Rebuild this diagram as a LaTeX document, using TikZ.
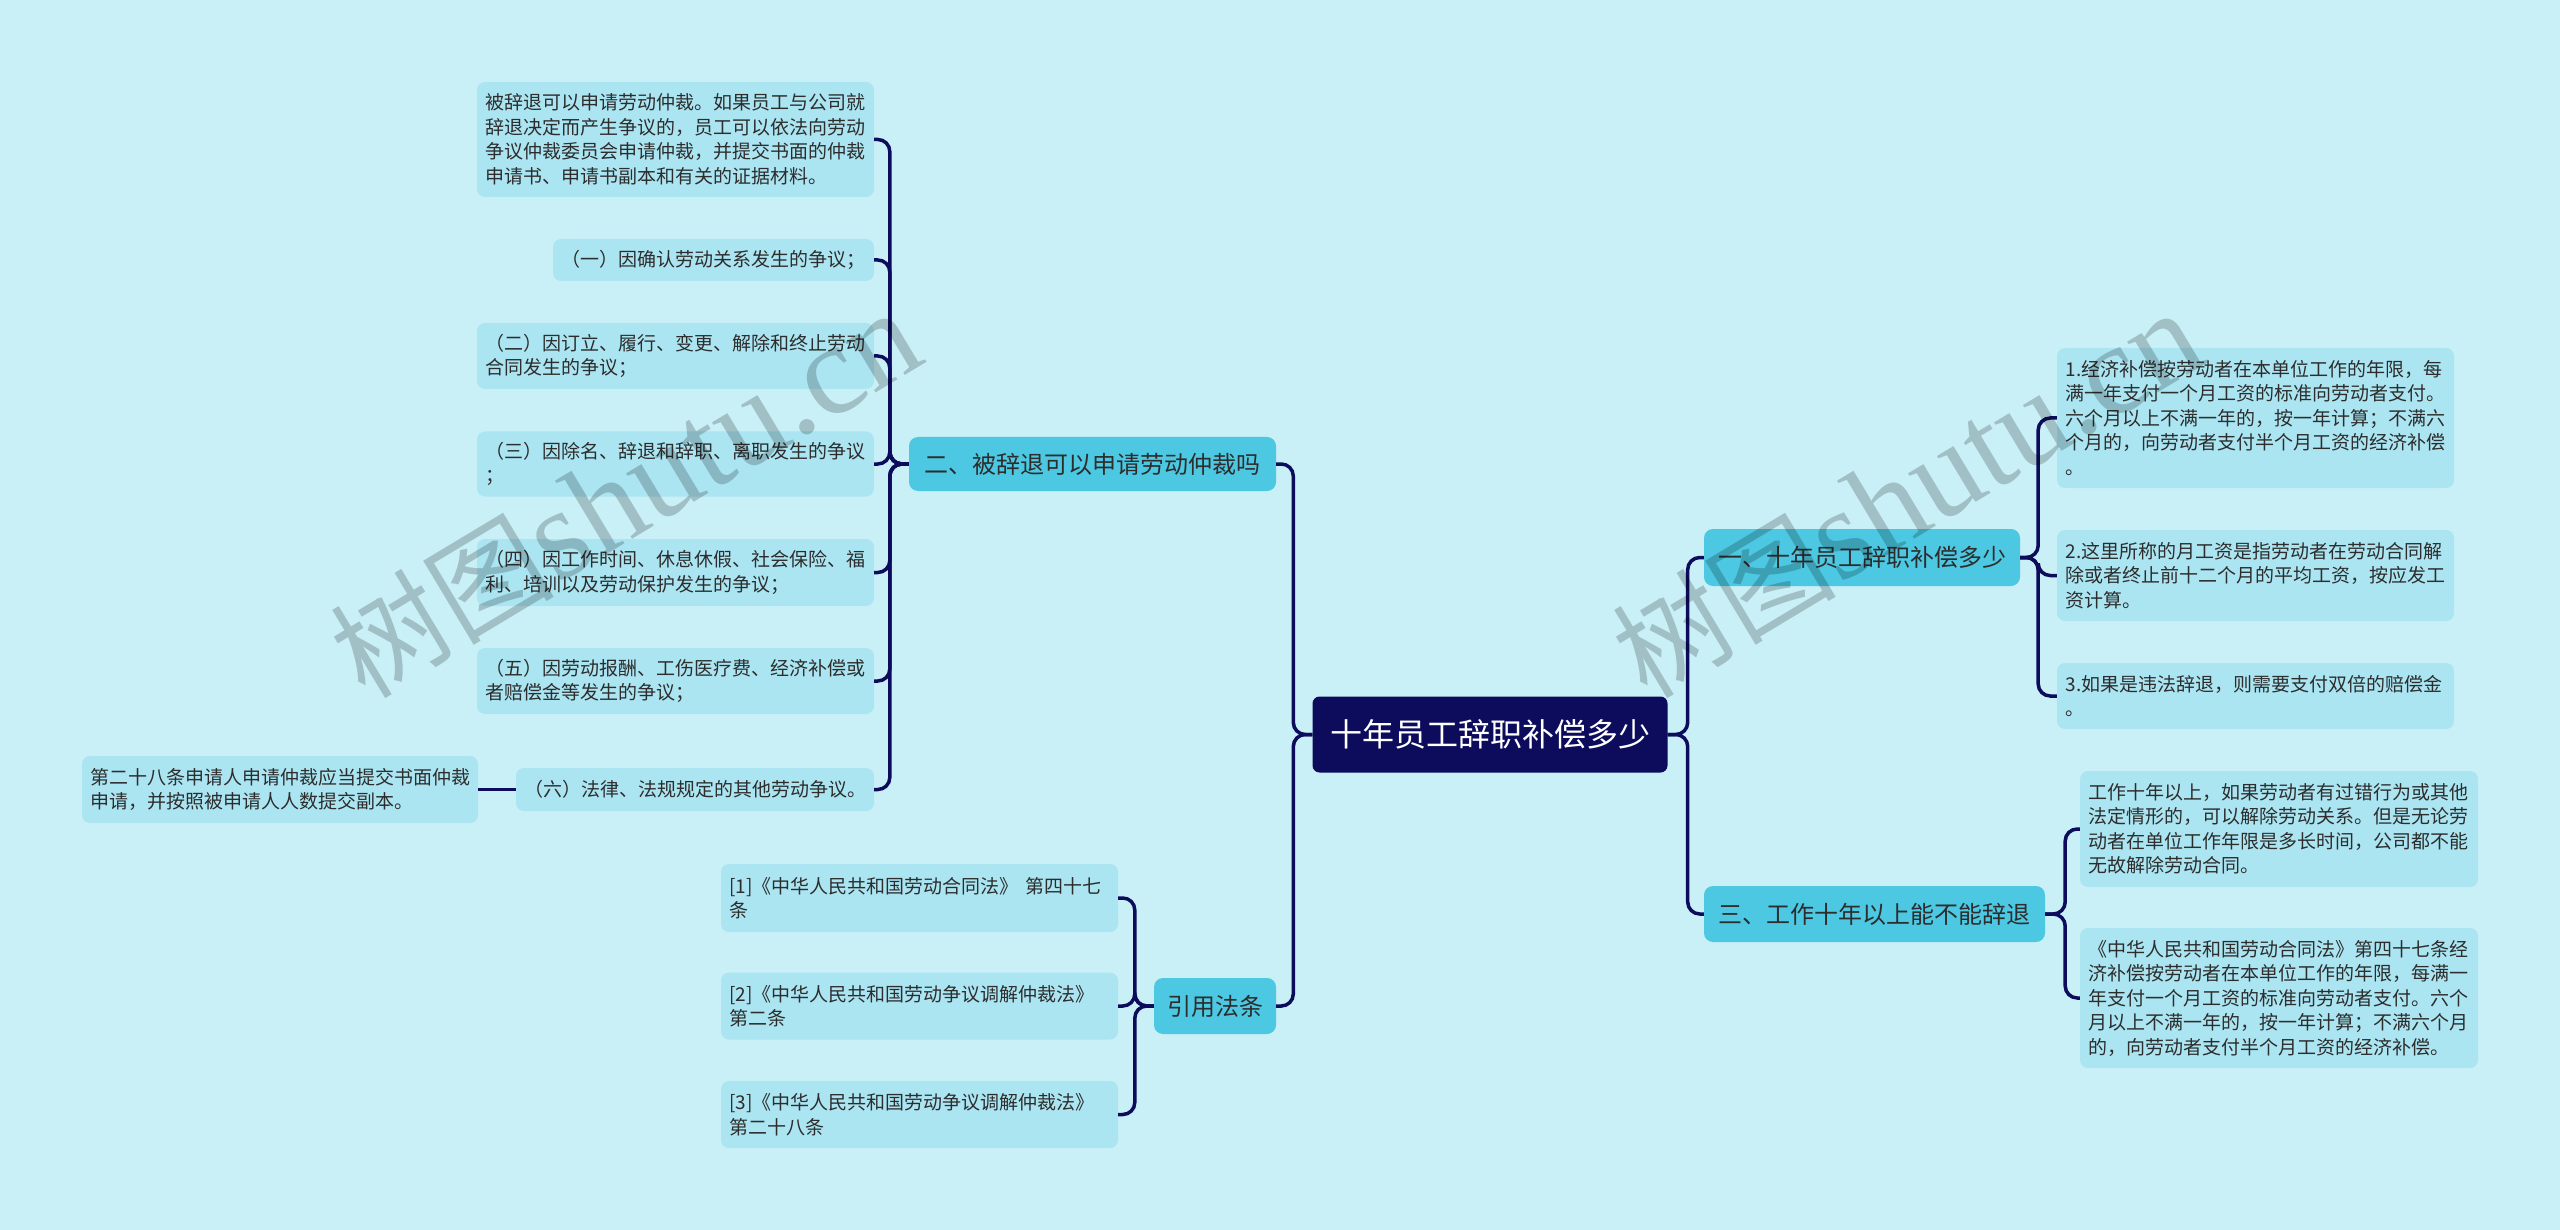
\documentclass[tikz,border=0pt]{standalone}
\usepackage{fontspec}
\setmainfont{Noto Sans CJK SC}
\newfontfamily\wmlatin{Liberation Serif}
\definecolor{bgc}{RGB}{201,240,247}
\definecolor{leafc}{RGB}{171,229,242}
\definecolor{branchc}{RGB}{76,200,226}
\definecolor{navy}{RGB}{12,11,92}
\definecolor{txt}{RGB}{45,45,45}
\tikzset{
  conn/.style={draw=navy, line width=3.5pt, rounded corners=12pt},
  leaf/.style={fill=leafc, rounded corners=8pt, inner xsep=8.5pt, inner ysep=0pt, align=left, text=txt, font=\fontsize{19pt}{24.5pt}\selectfont},
  branch/.style={fill=branchc, rounded corners=9pt, inner sep=0pt, text=txt, font=\fontsize{24pt}{28pt}\selectfont},
  rootbox/.style={fill=navy, rounded corners=7pt, inner sep=0pt, text=white, font=\fontsize{32pt}{38pt}\selectfont},
  wm/.style={text=black, text opacity=0.2, rotate=31, anchor=base west, font=\fontsize{112pt}{112pt}\selectfont}
}
\newcommand\wmtext{树图{\wmlatin\fontsize{129pt}{129pt}\selectfont shutu.cn}}
\begin{document}
\begin{tikzpicture}[x=1pt,y=-1pt]
\fill[bgc] (0,0) rectangle (2560,1230);
\useasboundingbox (0,0) rectangle (2560,1230);

% root and branches
\node[rootbox, minimum width=355pt, minimum height=76pt] (root) at (1490,734.5) {十年员工辞职补偿多少};
\node[branch, minimum width=367pt, minimum height=54pt] (b2) at (1092.5,464) {二、被辞退可以申请劳动仲裁吗};
\node[branch, minimum width=122pt, minimum height=56pt] (ref) at (1215,1006) {引用法条};
\node[branch, minimum width=316pt, minimum height=57pt] (b1) at (1862,557.5) {一、十年员工辞职补偿多少};
\node[branch, minimum width=341pt, minimum height=56pt] (b3) at (1874.5,914) {三、工作十年以上能不能辞退};

% leaves of b2
\node[leaf, text width=380pt, minimum height=115pt] (a1) at (675.5,139.5) {被辞退可以申请劳动仲裁。如果员工与公司就\\辞退决定而产生争议的，员工可以依法向劳动\\争议仲裁委员会申请仲裁，并提交书面的仲裁\\申请书、申请书副本和有关的证据材料。};
\node[leaf, text width=304pt, minimum height=42pt] (a2) at (713.5,260) {（一）因确认劳动关系发生的争议；};
\node[leaf, text width=380pt, minimum height=66pt] (a3) at (675.5,356) {（二）因订立、履行、变更、解除和终止劳动\\合同发生的争议；};
\node[leaf, text width=380pt, minimum height=65pt] (a4) at (675.5,464) {（三）因除名、辞退和辞职、离职发生的争议\\；};
\node[leaf, text width=380pt, minimum height=67pt] (a5) at (675.5,572.5) {（四）因工作时间、休息休假、社会保险、福\\利、培训以及劳动保护发生的争议；};
\node[leaf, text width=380pt, minimum height=66pt] (a6) at (675.5,681) {（五）因劳动报酬、工伤医疗费、经济补偿或\\者赔偿金等发生的争议；};
\node[leaf, text width=341pt, minimum height=43pt] (a7) at (695,789.5) {（六）法律、法规规定的其他劳动争议。};
\node[leaf, text width=379pt, minimum height=67pt] (a8) at (280,789.5) {第二十八条申请人申请仲裁应当提交书面仲裁\\申请，并按照被申请人人数提交副本。};

% leaves of ref
\node[leaf, text width=380pt, minimum height=68pt] (r1) at (919.5,898) {[1]《中华人民共和国劳动合同法》 第四十七\\条};
\node[leaf, text width=380pt, minimum height=67pt] (r2) at (919.5,1006) {[2]《中华人民共和国劳动争议调解仲裁法》\\第二条};
\node[leaf, text width=380pt, minimum height=67pt] (r3) at (919.5,1114.5) {[3]《中华人民共和国劳动争议调解仲裁法》\\第二十八条};

% leaves of b1
\node[leaf, text width=380pt, minimum height=140pt] (e1) at (2255.5,418) {1.经济补偿按劳动者在本单位工作的年限，每\\满一年支付一个月工资的标准向劳动者支付。\\六个月以上不满一年的，按一年计算；不满六\\个月的，向劳动者支付半个月工资的经济补偿\\。};
\node[leaf, text width=380pt, minimum height=91pt] (e2) at (2255.5,575.5) {2.这里所称的月工资是指劳动者在劳动合同解\\除或者终止前十二个月的平均工资，按应发工\\资计算。};
\node[leaf, text width=380pt, minimum height=66pt] (e3) at (2255.5,696) {3.如果是违法辞退，则需要支付双倍的赔偿金\\。};

% leaves of b3
\node[leaf, text width=381pt, minimum height=116pt] (f1) at (2279,829) {工作十年以上，如果劳动者有过错行为或其他\\法定情形的，可以解除劳动关系。但是无论劳\\动者在单位工作年限是多长时间，公司都不能\\无故解除劳动合同。};
\node[leaf, text width=381pt, minimum height=140pt] (f2) at (2279,998) {《中华人民共和国劳动合同法》第四十七条经\\济补偿按劳动者在本单位工作的年限，每满一\\年支付一个月工资的标准向劳动者支付。六个\\月以上不满一年的，按一年计算；不满六个月\\的，向劳动者支付半个月工资的经济补偿。};

% connectors
\draw[conn] (root.west) -- ++(-19,0) |- (b2.east);
\draw[conn] (root.west) -- ++(-19,0) |- (ref.east);
\draw[conn] (root.east) -- ++(20,0) |- (b1.west);
\draw[conn] (root.east) -- ++(20,0) |- (b3.west);
\foreach \n in {a1,a2,a3,a4,a5,a6,a7}
  \draw[conn] (b2.west) -- ++(-19,0) |- (\n.east);
\draw[conn] (a7.west) -- (a8.east);
\foreach \n in {r1,r2,r3}
  \draw[conn] (ref.west) -- ++(-19,0) |- (\n.east);
\foreach \n in {e1,e2,e3}
  \draw[conn] (b1.east) -- ++(18,0) |- (\n.west);
\foreach \n in {f1,f2}
  \draw[conn] (b3.east) -- ++(20,0) |- (\n.west);

% watermarks
\node[wm] (wm1) at (362,702) {\wmtext};
\node[wm] (wm2) at (1644,702) {\wmtext};
\end{tikzpicture}
\end{document}
